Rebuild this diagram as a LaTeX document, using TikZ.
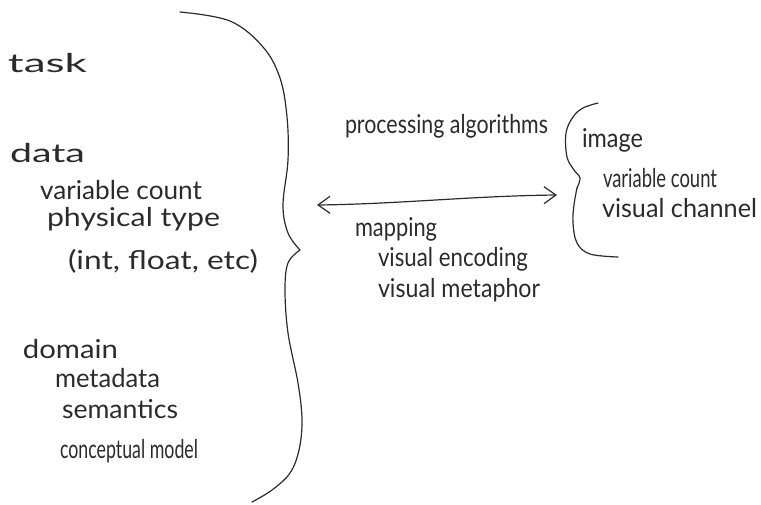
\documentclass[tikz,border=0pt]{standalone}
\usepackage{fontspec}
\setmainfont{Lato}
\usetikzlibrary{arrows.meta}
\definecolor{ink}{HTML}{2B2B2B}
\newlength\hwlen
\newcommand\hwtext[2]{\settowidth\hwlen{#2}\scalebox{\fpeval{#1/(\the\hwlen)}}[1]{#2}}
\tikzset{
  hand/.style={anchor=base west, inner sep=0pt, outer sep=0pt, text=ink,
    font=\fontsize{26}{30}\selectfont},
  pen/.style={draw=ink, line width=1.2pt, line cap=round, line join=round},
  barb/.style={pen, {Straight Barb[length=12pt,width=17pt]}-{Straight Barb[length=12pt,width=17pt]}}
}
\begin{document}
\begin{tikzpicture}[x=1pt,y=-1pt]
\useasboundingbox (0,0) rectangle (761,504);
% left column
\node[hand] (task) at (8,72) {\hwtext{79}{task}};
\node[hand] (data) at (10,162) {\hwtext{75}{data}};
\node[hand] (dvc) at (40,199) {\hwtext{162}{variable count}};
\node[hand] (dpt) at (47,226) {\hwtext{173}{physical type}};
\node[hand] (dint) at (68,269) {\hwtext{190}{(int, float, etc)}};
\node[hand] (dom) at (23,358) {\hwtext{95}{domain}};
\node[hand] (meta) at (55,387) {\hwtext{105}{metadata}};
\node[hand] (sem) at (62,418) {\hwtext{116}{semantics}};
\node[hand] (cm) at (60,458) {\hwtext{138}{conceptual model}};
% big brace
\draw[pen] plot[smooth, tension=0.6] coordinates {(180,12) (230,21) (263,47) (280,78) (287,117) (288,160) (283,205) (288,233) (300,250)};
\draw[pen] plot[smooth, tension=0.6] coordinates {(300,250) (288,263) (285,290) (288,333) (298,383) (302,420) (299,450) (290,473) (272,490) (252,502)};
% middle
\node[hand] (proc) at (345,133) {\hwtext{203}{processing algorithms}};
\coordinate (aL) at (317,205);
\coordinate (aR) at (557,195);
\draw[barb] (aL) .. controls (400,204) and (470,196) .. (aR);
\node[hand] (map) at (355,236) {\hwtext{82}{mapping}};
\node[hand] (venc) at (378,266) {\hwtext{150}{visual encoding}};
\node[hand] (vmet) at (378,297) {\hwtext{162}{visual metaphor}};
% small brace
\draw[pen] plot[smooth, tension=0.6] coordinates {(598,103) (583,108) (573,117) (566,133) (567,157) (574,170) (580,178) (577,188)};
\draw[pen] plot[smooth, tension=0.6] coordinates {(577,188) (574,205) (573,223) (577,243) (590,254) (618,257)};
% right column
\node[hand] (img) at (582,147) {\hwtext{61}{image}};
\node[hand] (ivc) at (603,187) {\hwtext{114}{variable count}};
\node[hand] (ivch) at (602,217) {\hwtext{155}{visual channel}};
\end{tikzpicture}
\end{document}
